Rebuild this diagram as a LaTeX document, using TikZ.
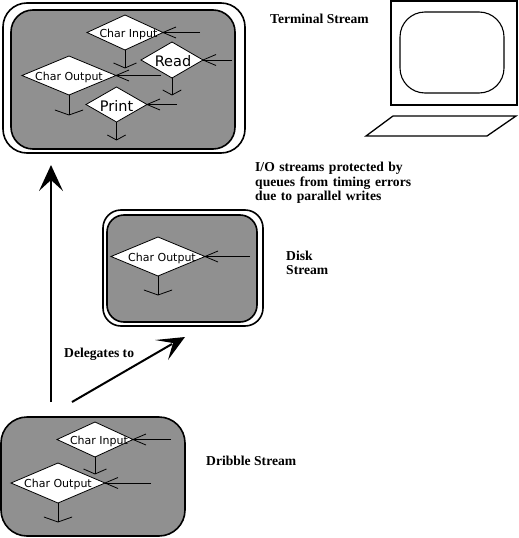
\documentclass[tikz,border=0pt]{standalone}
\usepackage{fontspec}
\setmainfont{Liberation Serif}
\setsansfont{DejaVu Sans}
\usetikzlibrary{shapes.geometric}
\definecolor{panel}{HTML}{909090}
\tikzset{
  x=1pt,y=-1pt,
  shell/.style={draw=black,line width=1.6pt,fill=white,rounded corners=24pt},
  panelbox/.style={draw=black,line width=1.6pt,fill=panel,rounded corners=22pt},
  flow/.style={draw=black,line width=0.8pt},
  dia/.style={draw=black,line width=0.8pt,fill=white},
  chartext/.style={font=\sffamily\fontsize{11}{12}\selectfont,inner sep=0pt,yshift=-1.5pt},
  bigtext/.style={font=\sffamily\fontsize{14.5}{16}\selectfont,inner sep=0pt,yshift=-1pt},
  caption/.style={font=\bfseries\fontsize{13.6}{14.6}\selectfont,inner sep=0pt,anchor=west,align=left,yshift=-1pt},
  bigarrow/.style={draw=black,line width=2pt},
}
% name, left, right, top, bottom, stem end, input end, label style
\newcommand{\flowdia}[8]{%
  \pgfmathsetmacro{\cx}{(#2+#3)/2}\pgfmathsetmacro{\cy}{(#4+#5)/2}%
  \coordinate (#1-l) at (#2,\cy);\coordinate (#1-r) at (#3,\cy);
  \coordinate (#1-t) at (\cx,#4);\coordinate (#1-b) at (\cx,#5);
  \coordinate (#1-s) at (\cx,#6);\coordinate (#1-i) at (#7,\cy);
  \draw[dia] (#1-l)--(#1-t)--(#1-r)--(#1-b)--cycle;
  \draw[flow] (#1-b)--(#1-s);
  \pgfmathsetmacro{\wa}{\cx-0.15*(#3-#2)}\pgfmathsetmacro{\wb}{\cx+0.15*(#3-#2)}\pgfmathsetmacro{\wy}{#6-5}%
  \draw[flow] (\wa,\wy)--(#1-s)--(\wb,\wy);
  \draw[flow] (#1-i)--(#1-r);
  \pgfmathsetmacro{\ax}{#3+13}\pgfmathsetmacro{\ay}{\cy-5.5}\pgfmathsetmacro{\by}{\cy+5.5}%
  \draw[flow] (\ax,\ay)--(#1-r)--(\ax,\by);
  \node[#8] (#1-n) at (\cx,\cy) {\flowlabel};
}
\begin{document}
\begin{tikzpicture}
\useasboundingbox (0,0) rectangle (519,538);
% Terminal stream
\draw[shell] (3,3) rectangle (245,153);
\draw[panelbox] (11,10) rectangle (235,149);
\def\flowlabel{Char Input}\flowdia{ci}{87}{163}{15}{50}{68}{200}{chartext,xshift=3.5pt}
\def\flowlabel{Read}\flowdia{rd}{141}{203}{42}{78}{95}{232}{bigtext,xshift=1pt}
\def\flowlabel{Char Output}\flowdia{co}{22}{116}{56}{95}{115}{161}{chartext}
\def\flowlabel{Print}\flowdia{pr}{86}{147}{87}{122}{140}{177}{bigtext}
% Disk stream
\draw[shell,rounded corners=18pt] (103,210) rectangle (263,326);
\draw[panelbox,rounded corners=17pt] (107,215) rectangle (257,322);
\def\flowlabel{Char Output}\flowdia{dk}{111}{205}{237}{276}{295}{250}{chartext,xshift=4pt}
% Dribble stream
\draw[panelbox,rounded corners=26pt] (1,417) rectangle (185,536);
\def\flowlabel{Char Input}\flowdia{di}{57}{133}{422}{457}{474}{171}{chartext,xshift=4pt}
\def\flowlabel{Char Output}\flowdia{do}{11}{105}{463}{503}{522}{151}{chartext}
% Monitor
\draw[line width=1.3pt] (391,1) rectangle (517,105);
\draw[line width=1.1pt,rounded corners=25pt] (400,12) rectangle (504,93);
\draw[line width=1.3pt] (393,116)--(516,116)--(487,136)--(366,136)--cycle;
% Big arrows
\coordinate (a1s) at (51,402);\coordinate (a1e) at (51,165);
\draw[bigarrow] (a1s)--(51,178);
\fill (a1e)--(63,191)--(51,180)--(39,191)--cycle;
\coordinate (a2s) at (72,402);\coordinate (a2e) at (185,337);
\draw[bigarrow] (a2s)--(172,344);
\fill (a2e)--(155,340)--(173,343)--(168,360)--cycle;
% Captions
\node[caption] (t1) at (270,18) {Terminal Stream};
\node[caption,text width=170pt] (t2) at (255,182) {I/O streams protected by\\queues from timing errors\\due to parallel writes};
\node[caption,text width=60pt] (t3) at (286,262) {Disk\\Stream};
\node[caption] (t4) at (64,353) {Delegates to};
\node[caption] (t5) at (206,460) {Dribble Stream};
\end{tikzpicture}
\end{document}
